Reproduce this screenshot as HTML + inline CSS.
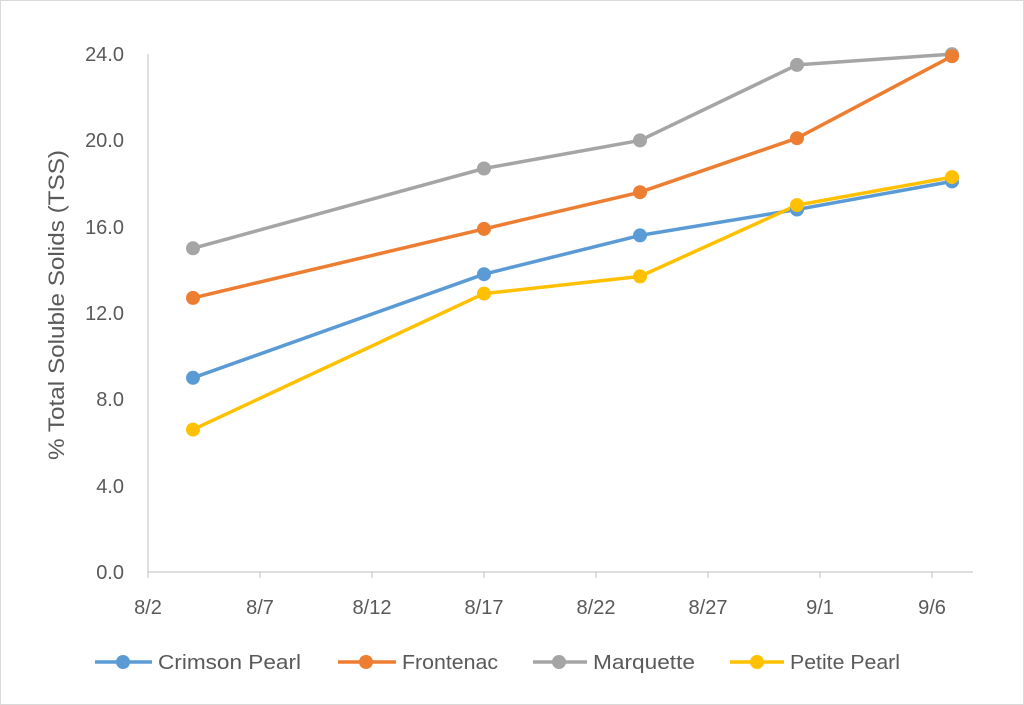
<!DOCTYPE html>
<html><head><style>body{margin:0;background:#fff}svg{display:block}</style></head><body>
<svg width="1024" height="705" xmlns="http://www.w3.org/2000/svg" font-family="Liberation Sans, sans-serif">
<rect x="0.5" y="0.5" width="1023" height="704" fill="#fff" stroke="#d9d9d9"/>
<g stroke="#bfbfbf" stroke-width="1">
<line x1="148" y1="54" x2="148" y2="572"/>
<line x1="148" y1="572" x2="973" y2="572"/>
<line x1="148" y1="572" x2="148" y2="578"/><line x1="260" y1="572" x2="260" y2="578"/><line x1="372" y1="572" x2="372" y2="578"/><line x1="484" y1="572" x2="484" y2="578"/><line x1="596" y1="572" x2="596" y2="578"/><line x1="708" y1="572" x2="708" y2="578"/><line x1="820" y1="572" x2="820" y2="578"/><line x1="932" y1="572" x2="932" y2="578"/>
</g>
<g fill="#595959" font-size="20" text-anchor="end">
<text x="124" y="579">0.0</text><text x="124" y="493">4.0</text><text x="124" y="406">8.0</text><text x="124" y="320">12.0</text><text x="124" y="234">16.0</text><text x="124" y="147">20.0</text><text x="124" y="61">24.0</text>
</g>
<g fill="#595959" font-size="20" text-anchor="middle">
<text x="148" y="614">8/2</text><text x="260" y="614">8/7</text><text x="372" y="614">8/12</text><text x="484" y="614">8/17</text><text x="596" y="614">8/22</text><text x="708" y="614">8/27</text><text x="820" y="614">9/1</text><text x="932" y="614">9/6</text>
</g>
<text transform="translate(64,305) rotate(-90)" fill="#595959" font-size="22" text-anchor="middle" textLength="310" lengthAdjust="spacingAndGlyphs">% Total Soluble Solids (TSS)</text>
<g fill="none" stroke-width="3.5" stroke-linejoin="round">
<polyline stroke="#A5A5A5" points="193,248.3 484,168.5 640,140.4 797,64.9 952,54.1"/>
<polyline stroke="#ED7D31" points="193,297.9 484,228.9 640,192.2 797,138.2 952,56.2"/>
<polyline stroke="#5B9BD5" points="193,377.8 484,274.2 640,235.4 797,209.5 952,181.4"/>
<polyline stroke="#FFC000" points="193,429.6 484,293.6 640,276.4 797,205.1 952,177.1"/>
</g>
<g fill="#A5A5A5"><circle cx="193" cy="248.3" r="7"/><circle cx="484" cy="168.5" r="7"/><circle cx="640" cy="140.4" r="7"/><circle cx="797" cy="64.9" r="7"/><circle cx="952" cy="54.1" r="7"/></g>
<g fill="#ED7D31"><circle cx="193" cy="297.9" r="7"/><circle cx="484" cy="228.9" r="7"/><circle cx="640" cy="192.2" r="7"/><circle cx="797" cy="138.2" r="7"/><circle cx="952" cy="56.2" r="7"/></g>
<g fill="#5B9BD5"><circle cx="193" cy="377.8" r="7"/><circle cx="484" cy="274.2" r="7"/><circle cx="640" cy="235.4" r="7"/><circle cx="797" cy="209.5" r="7"/><circle cx="952" cy="181.4" r="7"/></g>
<g fill="#FFC000"><circle cx="193" cy="429.6" r="7"/><circle cx="484" cy="293.6" r="7"/><circle cx="640" cy="276.4" r="7"/><circle cx="797" cy="205.1" r="7"/><circle cx="952" cy="177.1" r="7"/></g>
<g stroke-width="3.5">
<line x1="95" y1="662" x2="152" y2="662" stroke="#5B9BD5"/><circle cx="123" cy="662" r="7" fill="#5B9BD5"/>
<line x1="338" y1="662" x2="396" y2="662" stroke="#ED7D31"/><circle cx="366" cy="662" r="7" fill="#ED7D31"/>
<line x1="533" y1="662" x2="587" y2="662" stroke="#A5A5A5"/><circle cx="559" cy="662" r="7" fill="#A5A5A5"/>
<line x1="730" y1="662" x2="784" y2="662" stroke="#FFC000"/><circle cx="757" cy="662" r="7" fill="#FFC000"/>
</g>
<g fill="#595959" font-size="20">
<text x="158" y="669" textLength="143" lengthAdjust="spacingAndGlyphs">Crimson Pearl</text><text x="402" y="669" textLength="96" lengthAdjust="spacingAndGlyphs">Frontenac</text><text x="593" y="669" textLength="102" lengthAdjust="spacingAndGlyphs">Marquette</text><text x="790" y="669" textLength="110" lengthAdjust="spacingAndGlyphs">Petite Pearl</text>
</g>
</svg>
</body></html>
